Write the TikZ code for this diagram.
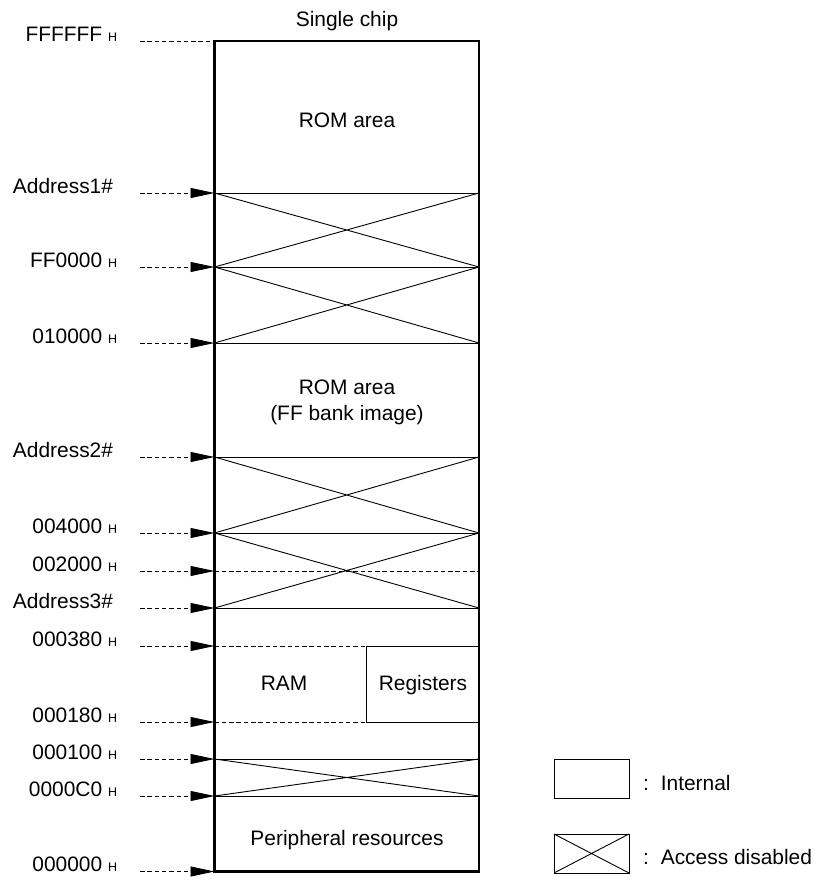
\documentclass[tikz,border=0pt]{standalone}
\usepackage{fontspec}
\setmainfont{Liberation Sans}
\usetikzlibrary{arrows.meta}
\newcommand\hsubscr[1]{{\fontsize{12.5}{14}\selectfont #1}}
\begin{document}
\begin{tikzpicture}[x=1bp,y=-1bp,
  every node/.style={font=\fontsize{21}{26}\selectfont, inner sep=0pt, outer sep=0pt},
  boxline/.style={line width=2.4bp},
  rule/.style={line width=0.9bp},
  dashrule/.style={line width=0.9bp, dash pattern=on 4.5bp off 2.8bp},
  addrarrow/.style={dashrule, -{Triangle[length=24bp,width=10bp]}},
  lab/.style={anchor=base east},
  txt/.style={anchor=base},
]
\useasboundingbox (0,0) rectangle (818,880);
% boundary coordinates
\foreach \n/\y in {top/41, a1/193, ff/267, ten/343, a2/457, four/533, two/571, a3/608, r380/646, r180/722, r100/759, rc0/796, bot/871.5}{
  \coordinate (L-\n) at (214.5,\y);
  \coordinate (R-\n) at (479,\y);
  \coordinate (S-\n) at (140,\y);
}
\coordinate (M-r380) at (366.5,646);
\coordinate (M-r180) at (366.5,722);

% main box
\draw[boxline] (L-top) rectangle (R-bot);

% internal boundaries
\draw[rule] (L-a1) -- (R-a1);
\draw[rule] (L-ff) -- (R-ff);
\draw[rule] (L-ten) -- (R-ten);
\draw[rule] (L-a1) -- (R-ff) (L-ff) -- (R-a1);
\draw[rule] (L-ff) -- (R-ten) (L-ten) -- (R-ff);

\draw[rule] (L-a2) -- (R-a2);
\draw[rule] (L-four) -- (R-four);
\draw[rule] (L-a3) -- (R-a3);
\draw[dashrule] (L-two) -- (R-two);
\draw[rule] (L-a2) -- (R-four) (L-four) -- (R-a2);
\draw[rule] (L-four) -- (R-a3) (L-a3) -- (R-four);

\draw[dashrule] (L-r380) -- (M-r380);
\draw[dashrule] (L-r180) -- (M-r180);
\draw[rule] (M-r380) rectangle (R-r180);

\draw[rule] (L-r100) -- (R-r100);
\draw[rule] (L-rc0) -- (R-rc0);
\draw[rule] (L-r100) -- (R-rc0) (L-rc0) -- (R-r100);

% region texts
\node[txt] (title) at (347,26) {Single chip};
\node[txt] (rom) at (347,127) {ROM area};
\node[txt] (romimg1) at (347,394) {ROM area};
\node[txt] (romimg2) at (347,420) {(FF bank image)};
\node[txt] (ram) at (284,690) {RAM};
\node[txt] (regs) at (423,690) {Registers};
\node[txt] (peri) at (347,845) {Peripheral resources};

% address labels
\node[lab] (l-top) at (117,41) {FFFFFF \hsubscr{H}};
\node[lab] (l-a1) at (113,193) {Address1\#};
\node[lab] (l-ff) at (117,267) {FF0000 \hsubscr{H}};
\node[lab] (l-ten) at (117,343) {010000 \hsubscr{H}};
\node[lab] (l-a2) at (113,457) {Address2\#};
\node[lab] (l-four) at (117,533) {004000 \hsubscr{H}};
\node[lab] (l-two) at (117,571) {002000 \hsubscr{H}};
\node[lab] (l-a3) at (113,608) {Address3\#};
\node[lab] (l-r380) at (117,646) {000380 \hsubscr{H}};
\node[lab] (l-r180) at (117,722) {000180 \hsubscr{H}};
\node[lab] (l-r100) at (117,759) {000100 \hsubscr{H}};
\node[lab] (l-rc0) at (117,796) {0000C0 \hsubscr{H}};
\node[lab] (l-bot) at (117,871.5) {000000 \hsubscr{H}};

% address arrows
\draw[dashrule] (S-top) -- (L-top);
\foreach \n in {a1,ff,ten,a2,four,two,a3,r380,r180,r100,rc0,bot}{
  \draw[addrarrow] (S-\n) -- (L-\n);
}

% legend
\draw[rule] (554,759) rectangle (629,798);
\node[anchor=base west] (leg1) at (643,790) {:\hspace{12bp}Internal};
\draw[rule] (554,834) rectangle (629,873);
\draw[rule] (554,834) -- (629,873) (554,873) -- (629,834);
\node[anchor=base west] (leg2) at (643,864) {:\hspace{12bp}Access disabled};
\end{tikzpicture}
\end{document}
